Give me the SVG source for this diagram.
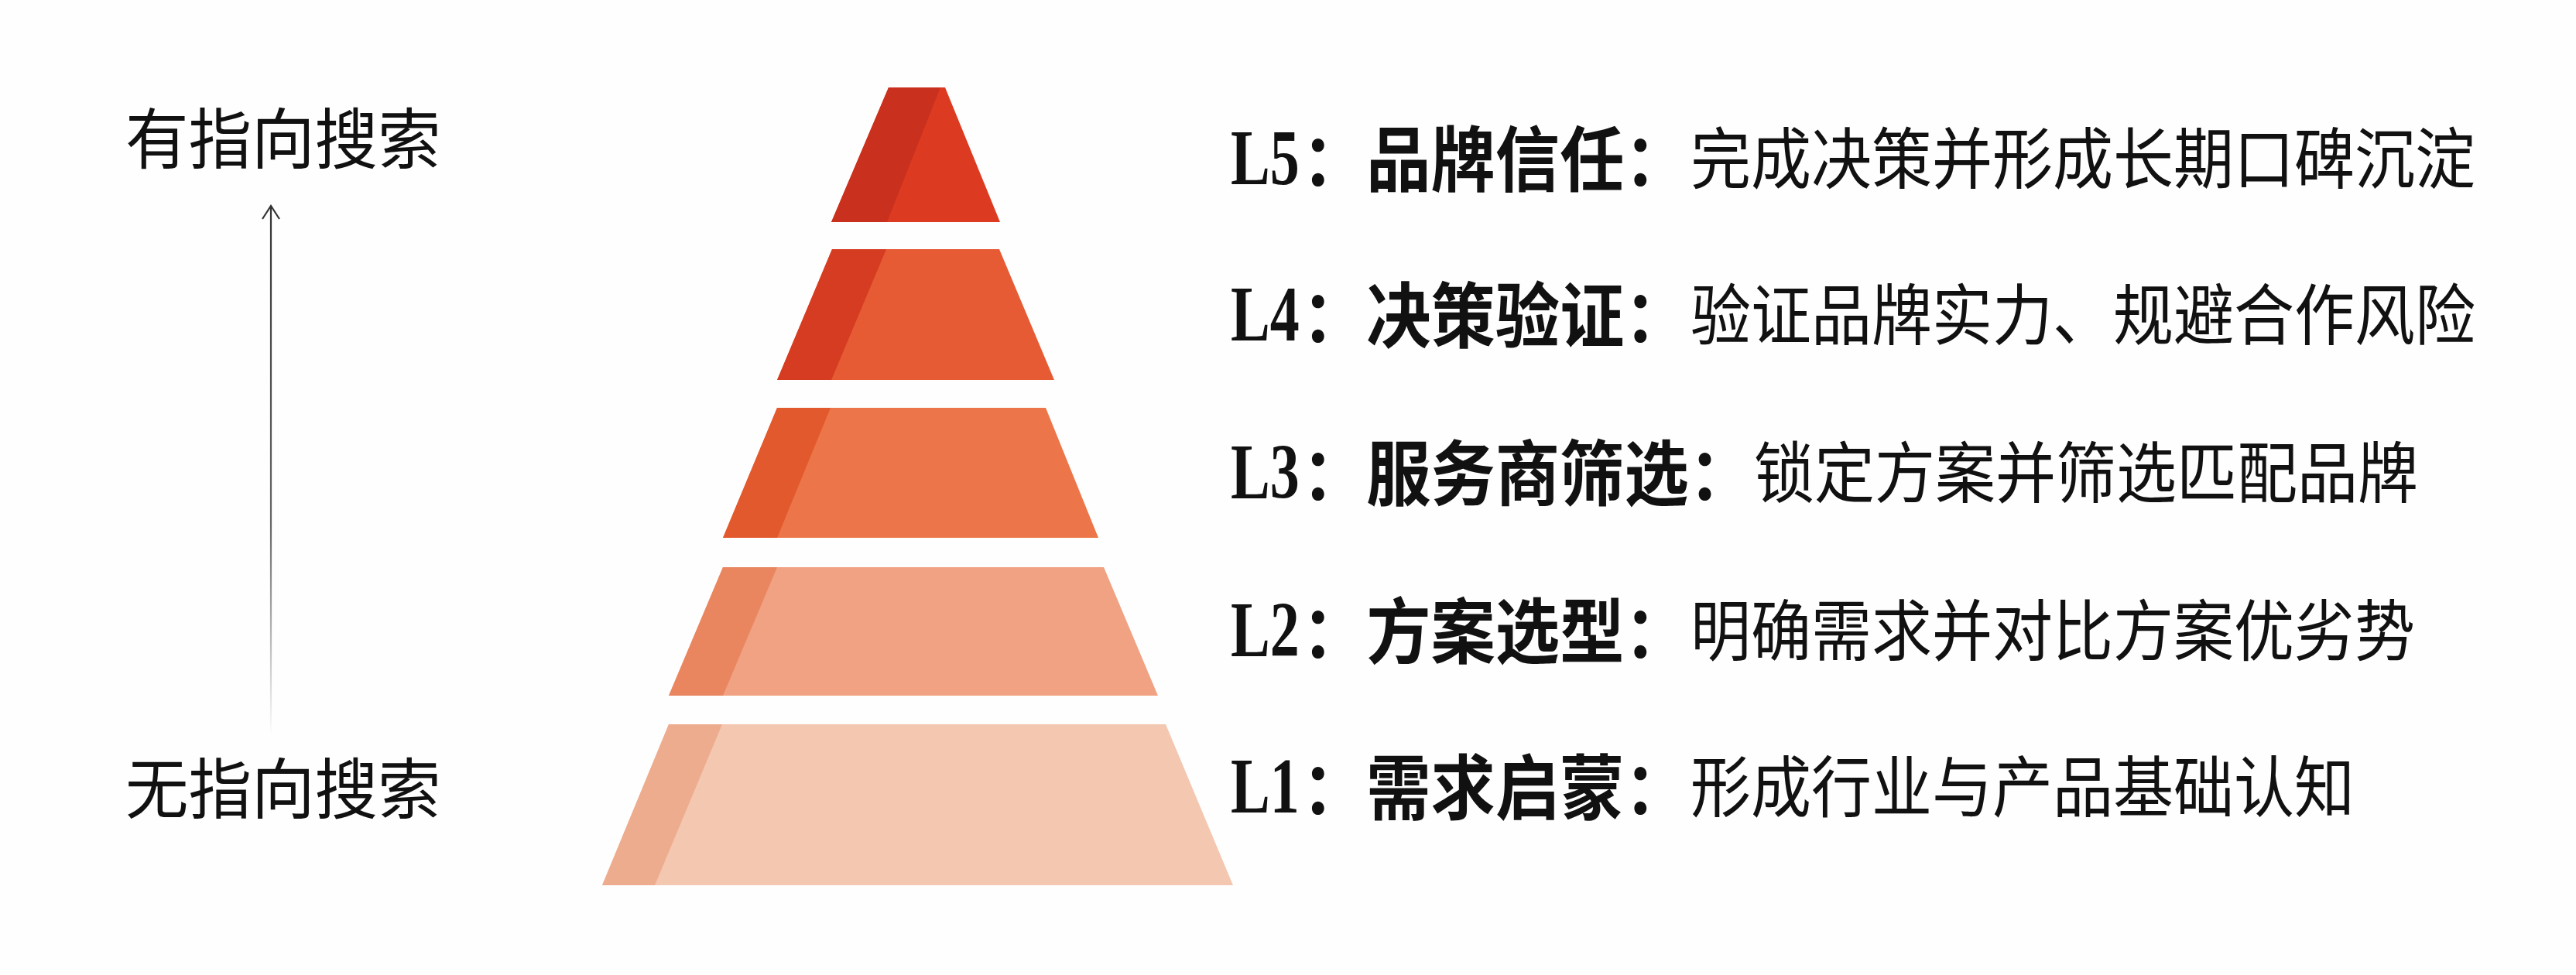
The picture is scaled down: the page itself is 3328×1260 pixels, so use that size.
<svg xmlns="http://www.w3.org/2000/svg" width="3328" height="1260" viewBox="0 0 3328 1260">
<style>
.lat{font-family:"Liberation Serif","Times New Roman",serif;font-weight:bold;font-size:76px;fill:#111}
.ttl{font-family:"Noto Sans CJK SC","Noto Sans",sans-serif;font-weight:bold;font-size:83.3px;fill:#111}
.dsc{font-family:"Noto Sans CJK SC","Noto Sans",sans-serif;font-weight:normal;font-size:78px;fill:#111}
.side{font-family:"Noto Sans CJK SC","Noto Sans",sans-serif;font-weight:normal;font-size:81.5px;fill:#111}
</style>
<defs>
<linearGradient id="axisGrad" gradientUnits="userSpaceOnUse" x1="0" y1="268" x2="0" y2="952">
<stop offset="0" stop-color="#333"/>
<stop offset="0.6" stop-color="#666"/>
<stop offset="1" stop-color="#fff"/>
</linearGradient>
<marker id="chev" viewBox="0 0 20 24" refX="18" refY="12" markerWidth="20" markerHeight="24" markerUnits="userSpaceOnUse" orient="auto">
<path d="M1,1 L18,12 L1,23" fill="none" stroke="#333" stroke-width="2.2"/>
</marker>
</defs>
<rect width="3328" height="1260" fill="#fefefe"/>

<g id="layer-L5">
<polygon points="1148,113 1221,113 1292,287 1074,287" fill="#dd3b21"/>
<polygon points="1148,113 1215,113 1146,287 1074,287" fill="#c9301e"/>
</g>
<g id="layer-L4">
<polygon points="1075,322 1291,322 1362,491 1004,491" fill="#e65a34"/>
<polygon points="1075,322 1145,322 1074,491 1004,491" fill="#d53c22"/>
</g>
<g id="layer-L3">
<polygon points="1004,527 1351,527 1419,695 934,695" fill="#ec7649"/>
<polygon points="1004,527 1073,527 1004,695 934,695" fill="#e2592d"/>
</g>
<g id="layer-L2">
<polygon points="934,733 1426,733 1496,899 864,899" fill="#f0a283"/>
<polygon points="934,733 1004,733 934,899 864,899" fill="#e9865f"/>
</g>
<g id="layer-L1">
<polygon points="864,936 1506,936 1593,1144 778,1144" fill="#f4c7b0"/>
<polygon points="864,936 933,936 846,1144 778,1144" fill="#eeac8f"/>
</g>

<g id="label-L5">
<text class="lat" x="0" y="0" transform="matrix(1,0,0,1.33,1590,238)">L5</text>
<text class="ttl" x="0" y="0" transform="matrix(1,0,0,1.1,1682,240)">：品牌信任：</text>
<text class="dsc" x="0" y="0" transform="matrix(1,0,0,1.1,2184,237)">完成决策并形成长期口碑沉淀</text>
</g>
<g id="label-L4">
<text class="lat" x="0" y="0" transform="matrix(1,0,0,1.33,1590,440)">L4</text>
<text class="ttl" x="0" y="0" transform="matrix(1,0,0,1.1,1682,442)">：决策验证：</text>
<text class="dsc" x="0" y="0" transform="matrix(1,0,0,1.1,2184,439)">验证品牌实力、规避合作风险</text>
</g>
<g id="label-L3">
<text class="lat" x="0" y="0" transform="matrix(1,0,0,1.33,1590,644)">L3</text>
<text class="ttl" x="0" y="0" transform="matrix(1,0,0,1.1,1682,646)">：服务商筛选：</text>
<text class="dsc" x="0" y="0" transform="matrix(1,0,0,1.1,2266,643)">锁定方案并筛选匹配品牌</text>
</g>
<g id="label-L2">
<text class="lat" x="0" y="0" transform="matrix(1,0,0,1.33,1590,848)">L2</text>
<text class="ttl" x="0" y="0" transform="matrix(1,0,0,1.1,1682,850)">：方案选型：</text>
<text class="dsc" x="0" y="0" transform="matrix(1,0,0,1.1,2184,847)">明确需求并对比方案优劣势</text>
</g>
<g id="label-L1">
<text class="lat" x="0" y="0" transform="matrix(1,0,0,1.33,1590,1050)">L1</text>
<text class="ttl" x="0" y="0" transform="matrix(1,0,0,1.1,1682,1052)">：需求启蒙：</text>
<text class="dsc" x="0" y="0" transform="matrix(1,0,0,1.1,2184,1049)">形成行业与产品基础认知</text>
</g>

<g id="axis-top">
<text class="side" x="0" y="0" transform="matrix(1,0,0,1.05,162,211)">有指向搜索</text>
</g>
<g id="axis-bottom">
<text class="side" x="0" y="0" transform="matrix(1,0,0,1.05,162,1051)">无指向搜索</text>
</g>

<g id="connectors">
<line x1="350" y1="952" x2="350" y2="266" stroke="url(#axisGrad)" stroke-width="2.2" marker-end="url(#chev)"/>
</g>
</svg>
